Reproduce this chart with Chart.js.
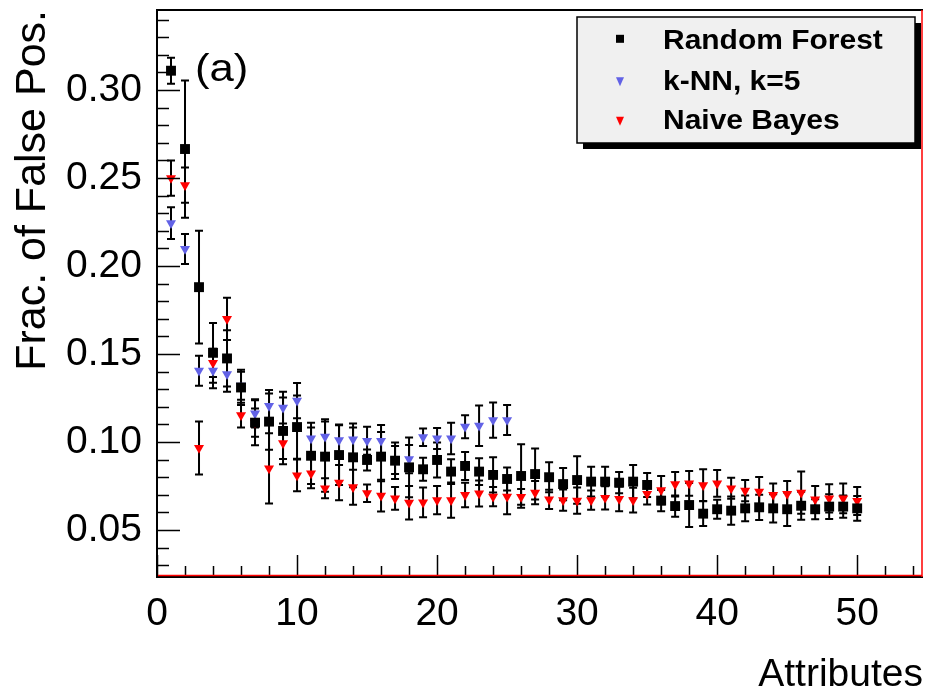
<!DOCTYPE html>
<html><head><meta charset="utf-8">
<script src="https://cdn.jsdelivr.net/npm/chart.js@4"></script>
<style>html,body{margin:0;padding:0;background:#fff;overflow:hidden}canvas{display:block}</style>
</head><body>
<canvas id="c" width="926" height="696" style="width:926px;height:696px"></canvas>
<script>
// ---- data ----
const attributes = [1,2,3,4,5,6,7,8,9,10,11,12,13,14,15,16,17,18,19,20,21,22,23,24,25,
  26,27,28,29,30,31,32,33,34,35,36,37,38,39,40,41,42,43,44,45,46,47,48,49,50];

const rfValues = [0.311,0.2665,0.188,0.1507,0.1475,0.131,0.111,0.1116,0.1063,0.1085,
  0.0922,0.0917,0.0926,0.0913,0.0898,0.0917,0.0894,0.0856,0.0845,0.0898,
  0.0832,0.0864,0.0832,0.0813,0.079,0.0807,0.0818,0.080,0.0761,0.0784,
  0.0775,0.0775,0.0769,0.0775,0.0756,0.0667,0.0636,0.0642,0.0593,0.0618,
  0.061,0.0623,0.0629,0.0623,0.0618,0.0638,0.0618,0.0633,0.0633,0.0623];
const rfErrors = [0.0074,0.039,0.032,0.017,0.016,0.010,0.0128,0.016,0.019,0.018,
  0.016,0.020,0.017,0.017,0.006,0.014,0.0104,0.017,0.0065,0.010,
  0.007,0.008,0.0076,0.010,0.0065,0.018,0.0145,0.0085,0.0092,0.0135,
  0.0085,0.0085,0.006,0.0095,0.0068,0.006,0.006,0.0125,0.007,0.0054,
  0.008,0.0073,0.0072,0.008,0.0095,0.008,0.0057,0.007,0.0063,0.007];

const knnValues = [0.2244,0.2097,0.1405,0.1405,0.1385,0.132,0.1163,0.1205,0.1195,0.1235,
  0.102,0.103,0.101,0.1015,0.1007,0.1007,0.0898,0.0903,0.1027,0.102,
  0.102,0.1087,0.1093,0.1125,0.1125];
const knnErrors = [0.009,0.0085,0.0085,0.01,0.01,0.008,0.008,0.009,0.009,0.01,
  0.009,0.01,0.009,0.009,0.008,0.009,0.008,0.008,0.005,0.006,
  0.009,0.0065,0.0115,0.01,0.0085];

const nbValues = [0.25,0.246,0.0966,0.145,0.170,0.1153,0.111,0.085,0.0993,0.081,
  0.0822,0.0737,0.0769,0.0743,0.0709,0.0695,0.068,0.0655,0.0657,0.067,
  0.067,0.0699,0.0708,0.069,0.069,0.0688,0.0712,0.0674,0.067,0.0667,
  0.067,0.0683,0.0677,0.067,0.0705,0.0727,0.076,0.0765,0.0755,0.0765,
  0.0737,0.0724,0.0718,0.070,0.0705,0.0712,0.0674,0.068,0.068,0.0665];
const nbErrors = [0.01,0.01,0.015,0.008,0.012,0.007,0.008,0.02,0.009,0.009,
  0.0085,0.0057,0.01,0.01,0.005,0.009,0.0065,0.0095,0.0085,0.008,
  0.01,0.007,0.0074,0.0055,0.01,0.0045,0.0066,0.0055,0.006,0.0075,
  0.0055,0.0066,0.007,0.007,0.006,0.008,0.007,0.007,0.009,0.0076,
  0.006,0.006,0.0083,0.0064,0.0074,0.012,0.0076,0.008,0.0085,0.008];

const seriesNames = ['Random Forest', 'k-NN, k=5', 'Naive Bayes'];
const xTickValues = [0,10,20,30,40,50];
const yTickValues = [0.05,0.10,0.15,0.20,0.25,0.30];
const xTitle = 'Attributes';
const yTitle = 'Frac. of False Pos.';
const panelLabel = '(a)';

// ---- styling ----
const FONT = "'Liberation Sans', Arial, Helvetica, sans-serif";
const BLUE = '#6262e6';
const RED = '#ff0000';

function toPoints(vals, errs) {
  return vals.map((v, i) => ({x: attributes[i], y: v, err: errs[i]}));
}

const errorBarPlugin = {
  id: 'errorBars',
  beforeDatasetsDraw(chart) {
    const ctx = chart.ctx, xs = chart.scales.x, ys = chart.scales.y;
    ctx.save();
    ctx.strokeStyle = '#000';
    ctx.lineWidth = 2;
    chart.data.datasets.forEach(ds => {
      ds.data.forEach(p => {
        const px = xs.getPixelForValue(p.x);
        const yTop = ys.getPixelForValue(p.y + p.err);
        const yBot = ys.getPixelForValue(p.y - p.err);
        ctx.beginPath();
        ctx.moveTo(px, yTop); ctx.lineTo(px, yBot);
        ctx.moveTo(px - 4, yTop); ctx.lineTo(px + 4, yTop);
        ctx.moveTo(px - 4, yBot); ctx.lineTo(px + 4, yBot);
        ctx.stroke();
      });
    });
    ctx.restore();
  }
};

const framePlugin = {
  id: 'frame',
  afterDraw(chart) {
    const ctx = chart.ctx, a = chart.chartArea, xs = chart.scales.x, ys = chart.scales.y;
    ctx.save();
    // ticks (inside the frame)
    ctx.strokeStyle = '#000';
    ctx.lineWidth = 1.5;
    ctx.beginPath();
    for (let k = 3; k <= 34; k++) {
      const v = k / 100;
      const py = Math.round(ys.getPixelForValue(v)) + 0.5;
      const len = (k % 5 === 0) ? 23 : 12;
      ctx.moveTo(a.left, py); ctx.lineTo(a.left + len, py);
    }
    for (let k = 0; k <= 54; k += 2) {
      const px = Math.round(xs.getPixelForValue(k)) + 0.5;
      const len = (k % 10 === 0) ? 22 : 11;
      ctx.moveTo(px, a.bottom); ctx.lineTo(px, a.bottom - len);
    }
    ctx.stroke();
    // frame
    ctx.lineWidth = 2;
    ctx.beginPath();
    ctx.moveTo(a.left, a.bottom + 1); ctx.lineTo(a.left, a.top);
    ctx.lineTo(a.right, a.top);
    ctx.moveTo(a.left - 1, a.bottom); ctx.lineTo(a.right, a.bottom);
    ctx.stroke();
    ctx.strokeStyle = RED;
    ctx.lineWidth = 1.5;
    ctx.beginPath();
    ctx.moveTo(a.left + 1, a.bottom - 1.5); ctx.lineTo(a.right - 1, a.bottom - 1.5);
    ctx.moveTo(a.right - 1, a.top); ctx.lineTo(a.right - 1, a.bottom);
    ctx.stroke();

    // legend box
    const bx = 577, by = 17, bw = 338, bh = 126;
    ctx.fillStyle = '#000';
    ctx.fillRect(bx + 6, by + 6, bw, bh);
    ctx.fillStyle = '#f0f0f0';
    ctx.fillRect(bx, by, bw, bh);
    ctx.strokeStyle = '#000';
    ctx.lineWidth = 1.5;
    ctx.strokeRect(bx, by, bw, bh);
    const rows = [38.8, 80.3, 118.8];
    const mx = 620;
    // markers
    ctx.fillStyle = '#000';
    ctx.fillRect(mx - 4, rows[0] - 4, 8, 8);
    const tri = (cx, cy, col) => {
      ctx.fillStyle = col;
      ctx.beginPath();
      ctx.moveTo(cx - 4, cy - 4); ctx.lineTo(cx + 4, cy - 4); ctx.lineTo(cx, cy + 5);
      ctx.closePath(); ctx.fill();
    };
    tri(mx, rows[1] + 1, BLUE);
    tri(mx, rows[2] + 2, RED);
    ctx.fillStyle = '#000';
    ctx.font = 'bold 27px ' + FONT;
    ctx.textBaseline = 'alphabetic';
    ctx.textAlign = 'left';
    seriesNames.forEach((name, i) => {
      ctx.save();
      ctx.translate(663, rows[i] + 9.7);
      ctx.scale(1.11, 1);
      ctx.fillText(name, 0, 0);
      ctx.restore();
    });
    // panel label
    ctx.save();
    ctx.font = '38px ' + FONT;
    ctx.translate(195, 81);
    ctx.scale(1.15, 1);
    ctx.fillText(panelLabel, 0, 0);
    ctx.restore();
    ctx.restore();
  }
};

new Chart(document.getElementById('c'), {
  type: 'scatter',
  data: {
    datasets: [
      {label: seriesNames[0], data: toPoints(rfValues, rfErrors),
       pointStyle: 'rect', pointRadius: 7, pointBorderWidth: 0,
       backgroundColor: '#000', borderColor: '#000'},
      {label: seriesNames[1], data: toPoints(knnValues, knnErrors),
       pointStyle: 'triangle', rotation: 180, pointRadius: 5.8, pointBorderWidth: 0,
       backgroundColor: BLUE, borderColor: BLUE},
      {label: seriesNames[2], data: toPoints(nbValues, nbErrors),
       pointStyle: 'triangle', rotation: 180, pointRadius: 5.8, pointBorderWidth: 0,
       backgroundColor: RED, borderColor: RED}
    ]
  },
  options: {
    responsive: false,
    animation: false,
    devicePixelRatio: 1,
    layout: {autoPadding: false, padding: {top: 10, right: 3, left: 0, bottom: 0}},
    plugins: {legend: {display: false}, tooltip: {enabled: false}},
    scales: {
      x: {
        type: 'linear', position: 'bottom', min: 0, max: 54.7,
        afterBuildTicks: s => { s.ticks = xTickValues.map(v => ({value: v})); },
        afterFit: s => { s.height = 119; s.paddingLeft = 0; s.paddingRight = 0; },
        grid: {display: false, drawTicks: false},
        border: {display: false},
        ticks: {color: '#000', padding: 14, maxRotation: 0, autoSkip: false,
                font: {family: FONT, size: 39}, callback: v => String(v)},
        title: {display: true, text: xTitle, align: 'end', color: '#000',
                font: {family: FONT, size: 39, lineHeight: 1}, padding: {top: 0, bottom: 1}}
      },
      y: {
        type: 'linear', min: 0.0233, max: 0.3455,
        afterBuildTicks: s => { s.ticks = yTickValues.map(v => ({value: v})); },
        afterFit: s => { s.width = 157; s.paddingTop = 0; s.paddingBottom = 0; },
        grid: {display: false, drawTicks: false},
        border: {display: false},
        ticks: {color: '#000', padding: 15, autoSkip: false,
                font: {family: FONT, size: 39}, callback: v => v.toFixed(2)},
        title: {display: true, text: yTitle, align: 'end', color: '#000',
                font: {family: FONT, size: 43, lineHeight: 1}, padding: {top: 12, bottom: 0}}
      }
    }
  },
  plugins: [errorBarPlugin, framePlugin]
});
</script>
</body></html>
